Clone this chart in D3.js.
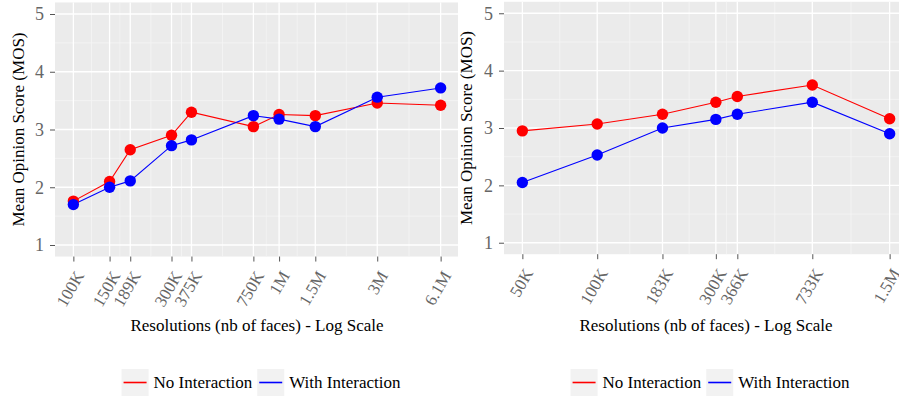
<!DOCTYPE html>
<html>
<head>
<meta charset="utf-8">
<script src="https://cdn.jsdelivr.net/npm/d3@7"></script>
<style>
  body { margin: 0; background: #fff; }
  svg, svg text { font-family: 'Liberation Serif', 'DejaVu Serif', 'Times New Roman', serif; }
</style>
</head>
<body>
<div id="chart"></div>
<script>
// --- data ---
const leftRes = [1e5, 1.5e5, 1.89e5, 3e5, 3.75e5, 7.5e5, 1e6, 1.5e6, 3e6, 6.1e6];
const leftResLabels = ["100K", "150K", "189K", "300K", "375K", "750K", "1M", "1.5M", "3M", "6.1M"];
const leftNoInteraction = [1.76, 2.10, 2.65, 2.90, 3.30, 3.05, 3.26, 3.24, 3.46, 3.42];
const leftWithInteraction = [1.70, 2.00, 2.11, 2.72, 2.82, 3.24, 3.18, 3.05, 3.56, 3.72];

const rightRes = [5e4, 1e5, 1.83e5, 3e5, 3.66e5, 7.33e5, 1.5e6];
const rightResLabels = ["50K", "100K", "183K", "300K", "366K", "733K", "1.5M"];
const rightNoInteraction = [2.95, 3.07, 3.24, 3.45, 3.55, 3.75, 3.16];
const rightWithInteraction = [2.05, 2.53, 3.00, 3.15, 3.24, 3.45, 2.90];

const mosTicks = [1, 2, 3, 4, 5];
const seriesNames = ["No Interaction", "With Interaction"];
const seriesColors = ["#ff0000", "#0000ff"];

const W = 899, H = 396;

const svg = d3.select("#chart").append("svg")
  .attr("width", W)
  .attr("height", H);

function drawFigure(g, cfg) {
  const p = cfg.panel;

  // log scale with ggplot-like 5% expansion in log space
  const lo = Math.log10(d3.min(cfg.res)), hi = Math.log10(d3.max(cfg.res));
  const pad = (hi - lo) * 0.05;
  const x = d3.scaleLog()
    .domain([Math.pow(10, lo - pad), Math.pow(10, hi + pad)])
    .range([p.left, p.right]);
  const y = d3.scaleLinear()
    .domain([0.8, 5.2])
    .range([p.bottom, p.top]);

  g.append("rect")
    .attr("x", p.left).attr("y", p.top)
    .attr("width", p.right - p.left).attr("height", p.bottom - p.top)
    .attr("fill", "#ebebeb");

  // minor grid: midpoints between breaks (in transformed space)
  const xMinor = d3.pairs(cfg.res).map(([a, b]) => Math.sqrt(a * b));
  const yMinor = d3.pairs(mosTicks).map(([a, b]) => (a + b) / 2);

  g.selectAll(".xminor").data(xMinor).enter().append("line")
    .attr("x1", d => x(d)).attr("x2", d => x(d))
    .attr("y1", p.top).attr("y2", p.bottom)
    .attr("stroke", "#f5f5f5").attr("stroke-width", 0.8);
  g.selectAll(".yminor").data(yMinor).enter().append("line")
    .attr("x1", p.left).attr("x2", p.right)
    .attr("y1", d => y(d)).attr("y2", d => y(d))
    .attr("stroke", "#f5f5f5").attr("stroke-width", 0.8);

  g.selectAll(".xmajor").data(cfg.res).enter().append("line")
    .attr("x1", d => x(d)).attr("x2", d => x(d))
    .attr("y1", p.top).attr("y2", p.bottom)
    .attr("stroke", "#fff").attr("stroke-width", 1.3);
  g.selectAll(".ymajor").data(mosTicks).enter().append("line")
    .attr("x1", p.left).attr("x2", p.right)
    .attr("y1", d => y(d)).attr("y2", d => y(d))
    .attr("stroke", "#fff").attr("stroke-width", 1.3);

  // y axis
  const yAxis = g.append("g")
    .attr("transform", `translate(${p.left},0)`)
    .call(d3.axisLeft(y).tickValues(mosTicks).tickSize(5).tickPadding(6).tickFormat(d3.format("d")))
    .attr("font-family", null).attr("font-size", null);
  yAxis.select(".domain").remove();
  yAxis.selectAll(".tick line").attr("stroke", "#555");
  yAxis.selectAll(".tick text")
    .attr("fill", "#666")
    .style("font-size", "18px");

  // x axis
  const xAxis = g.append("g")
    .attr("transform", `translate(0,${p.bottom})`)
    .call(d3.axisBottom(x).tickValues(cfg.res).tickSize(5)
      .tickFormat((d, i) => cfg.labels[i]))
    .attr("font-family", null).attr("font-size", null);
  xAxis.select(".domain").remove();
  xAxis.selectAll(".tick line").attr("stroke", "#555");
  xAxis.selectAll(".tick text")
    .attr("fill", "#666")
    .style("font-size", "17px")
    .attr("text-anchor", "end")
    .attr("dy", "0.32em")
    .attr("y", 0)
    .attr("transform", "translate(6,16) rotate(-60)");

  const cx = (p.left + p.right) / 2;
  g.append("text")
    .attr("x", cx).attr("y", cfg.xTitleY)
    .attr("text-anchor", "middle")
    .style("font-size", "17px")
    .text("Resolutions (nb of faces) - Log Scale");

  g.append("text")
    .attr("transform", `translate(${cfg.yTitleX},${(p.top + p.bottom) / 2}) rotate(-90)`)
    .attr("text-anchor", "middle")
    .attr("dy", "0.35em")
    .style("font-size", "17px")
    .text("Mean Opinion Score (MOS)");

  // lines and points
  const series = [cfg.noInt, cfg.withInt];
  const line = d3.line().x(d => x(d[0])).y(d => y(d[1]));
  series.forEach((vals, si) => {
    const pts = cfg.res.map((r, i) => [r, vals[i]]);
    g.append("path")
      .datum(pts)
      .attr("d", line)
      .attr("fill", "none")
      .attr("stroke", seriesColors[si])
      .attr("stroke-width", 1.1);
  });
  series.forEach((vals, si) => {
    const pts = cfg.res.map((r, i) => [r, vals[i]]);
    g.selectAll(".pt" + si).data(pts).enter().append("circle")
      .attr("cx", d => x(d[0])).attr("cy", d => y(d[1]))
      .attr("r", 5.7)
      .attr("fill", seriesColors[si]);
  });

  // legend
  const lg = g.append("g");
  const keyW = 27, keyH = 27, gap = 5, itemGap = 5;
  let xPos = 0;
  seriesNames.forEach((name, i) => {
    lg.append("rect")
      .attr("x", xPos).attr("y", 0)
      .attr("width", keyW).attr("height", keyH)
      .attr("fill", "#f2f2f2");
    lg.append("line")
      .attr("x1", xPos + 2).attr("x2", xPos + keyW - 2)
      .attr("y1", keyH / 2).attr("y2", keyH / 2)
      .attr("stroke", seriesColors[i]).attr("stroke-width", 1.6);
    const t = lg.append("text")
      .attr("x", xPos + keyW + gap).attr("y", keyH / 2)
      .attr("dy", "0.35em")
      .style("font-size", "17px")
      .text(name);
    xPos += keyW + gap + t.node().getComputedTextLength() + itemGap;
  });
  const legendW = xPos - itemGap;
  lg.attr("transform", `translate(${cx + 4 - legendW / 2},${cfg.legendY})`);
}

const left = svg.append("g");
drawFigure(left, {
  res: leftRes, labels: leftResLabels,
  noInt: leftNoInteraction, withInt: leftWithInteraction,
  panel: { left: 55, right: 459, top: 2.45, bottom: 256.55 },
  xTitleY: 331, yTitleX: 18, legendY: 369
});

// right figure sits on top and hides the cropped edge of the left one
const right = svg.append("g");
right.append("rect")
  .attr("x", 458).attr("y", 0)
  .attr("width", W - 458).attr("height", H)
  .attr("fill", "#fff");
drawFigure(right, {
  res: rightRes, labels: rightResLabels,
  noInt: rightNoInteraction, withInt: rightWithInteraction,
  panel: { left: 504, right: 908, top: 1.8, bottom: 254.2 },
  xTitleY: 331, yTitleX: 466, legendY: 369
});
</script>
</body>
</html>
